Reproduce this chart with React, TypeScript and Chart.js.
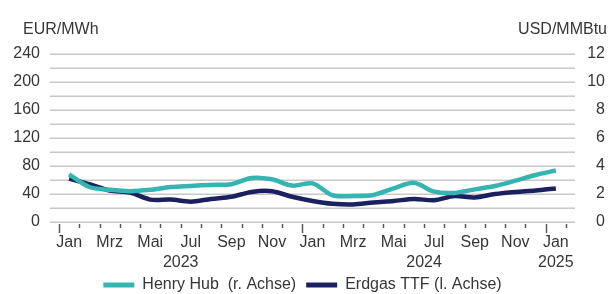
import React, { useEffect, useRef } from 'react';
import { Chart, registerables } from 'chart.js';

Chart.register(...registerables);

const months = [
  'Jan', 'Feb', 'Mrz', 'Apr', 'Mai', 'Jun', 'Jul', 'Aug', 'Sep', 'Okt', 'Nov', 'Dez',
  'Jan', 'Feb', 'Mrz', 'Apr', 'Mai', 'Jun', 'Jul', 'Aug', 'Sep', 'Okt', 'Nov', 'Dez',
  'Jan',
];
const years = ['2023', '2024', '2025'];
const yearStarts = [0, 12, 24];
const yearEnds = [12, 24, 25];

// USD/MMBtu (right axis)
const henryHub = [
  3.4, 2.5, 2.3, 2.2, 2.3, 2.5, 2.58, 2.65, 2.7, 3.15, 3.05, 2.6,
  2.76, 1.9, 1.86, 1.93, 2.4, 2.8, 2.17, 2.08, 2.33, 2.57, 2.95, 3.36,
  3.68,
];
// EUR/MWh (left axis)
const ttf = [
  62, 54, 45, 42, 32, 32, 29, 33, 36, 43, 44, 36,
  30, 26, 25, 28, 30, 33, 31, 37, 35, 40, 43, 45,
  48,
];

const leftTitle = 'EUR/MWh';
const rightTitle = 'USD/MMBtu';
const seriesNames = ['Henry Hub  (r. Achse)', 'Erdgas TTF (l. Achse)'];

const TEAL = '#35b4b2';
const NAVY = '#1b215e';
const TEXT = '#363636';
const FONT = { family: "'Liberation Sans', Arial, sans-serif", size: 16 };
const FONT_STR = "16px 'Liberation Sans', Arial, sans-serif";

const decorPlugin = {
  id: 'decor',
  beforeDatasetsDraw(chart: any) {
    const { ctx, chartArea } = chart;
    const y = chart.scales.y;
    ctx.save();
    ctx.strokeStyle = '#c8c8c8';
    ctx.lineWidth = 1.5;
    for (let v = 0; v <= 240; v += 20) {
      const py = Math.round(y.getPixelForValue(v)) + 0.25;
      ctx.beginPath();
      ctx.moveTo(chartArea.left - 9, py);
      ctx.lineTo(chartArea.right + 9, py);
      ctx.stroke();
    }
    ctx.restore();
  },
  afterDraw(chart: any) {
    const { ctx, chartArea } = chart;
    const x = chart.scales.x;
    const y = chart.scales.y;
    const y1 = chart.scales.y1;
    const half = (x.getPixelForValue(1) - x.getPixelForValue(0)) / 2;
    const bound = (i: number) => x.getPixelForValue(i) - half;
    ctx.save();
    ctx.strokeStyle = '#595959';
    ctx.lineWidth = 1.5;
    const base = chartArea.bottom + 2;
    for (let i = 0; i <= months.length; i++) {
      const px = Math.round(bound(i)) + 0.5;
      const major = yearStarts.includes(i);
      ctx.beginPath();
      ctx.moveTo(px, base);
      ctx.lineTo(px, base + (major ? 9 : 4));
      ctx.stroke();
    }
    ctx.fillStyle = TEXT;
    ctx.font = FONT_STR;
    ctx.textBaseline = 'middle';
    ctx.textAlign = 'center';
    years.forEach((yr, k) => {
      const cx = (bound(yearStarts[k]) + bound(yearEnds[k])) / 2;
      ctx.fillText(yr, cx, chartArea.bottom + 41);
    });
    ctx.textAlign = 'left';
    ctx.fillText(leftTitle, y.left + 23, 30);
    ctx.textAlign = 'right';
    ctx.fillText(rightTitle, y1.right + 2, 30);
    ctx.restore();
  },
};

export default function App() {
  const ref = useRef<HTMLCanvasElement>(null);
  useEffect(() => {
    if (!ref.current) return;
    const chart = new Chart(ref.current, {
      type: 'line',
      data: {
        labels: months,
        datasets: [
          {
            label: seriesNames[0],
            data: henryHub,
            yAxisID: 'y1',
            borderColor: TEAL,
            backgroundColor: TEAL,
            borderWidth: 4.5,
            pointRadius: 0,
            tension: 0.3,
            borderJoinStyle: 'round',
          },
          {
            label: seriesNames[1],
            data: ttf,
            yAxisID: 'y',
            borderColor: NAVY,
            backgroundColor: NAVY,
            borderWidth: 4.5,
            pointRadius: 0,
            tension: 0.3,
            borderJoinStyle: 'round',
          },
        ],
      },
      options: {
        animation: false,
        responsive: false,
        layout: { padding: { top: 54, right: 6, bottom: -9, left: 0 } },
        plugins: {
          tooltip: { enabled: false },
          legend: {
            position: 'bottom',
            labels: {
              boxWidth: 31,
              boxHeight: 5,
              padding: 10,
              color: TEXT,
              font: FONT,
              generateLabels: (c: any) => {
                const items = Chart.defaults.plugins.legend.labels.generateLabels(c);
                return items.map((it: any) => ({ ...it, lineWidth: 0, strokeStyle: 'transparent' }));
              },
            },
          },
        },
        scales: {
          x: {
            offset: true,
            grid: { display: false, drawTicks: false },
            border: { display: false },
            ticks: {
              autoSkip: false,
              maxRotation: 0,
              padding: 11,
              color: TEXT,
              font: FONT,
              callback: (_v: any, i: number) => (i % 2 === 0 ? months[i] : ''),
            },
            afterFit: (s: any) => {
              s.height = 45;
            },
          },
          y: {
            position: 'left',
            min: 0,
            max: 240,
            grid: { display: false, drawTicks: false },
            border: { display: false },
            ticks: {
              stepSize: 20,
              padding: 19,
              color: TEXT,
              font: FONT,
              callback: (v: any) => (v % 40 === 0 ? String(v) : ''),
            },
            afterFit: (s: any) => {
              s.width = 59;
            },
          },
          y1: {
            position: 'right',
            min: 0,
            max: 12,
            grid: { display: false, drawTicks: false },
            border: { display: false },
            ticks: {
              stepSize: 1,
              crossAlign: 'far',
              color: TEXT,
              font: FONT,
              callback: (v: any) => (v % 2 === 0 ? String(v) : ''),
            },
            afterFit: (s: any) => {
              s.width = 39;
            },
          },
        },
      } as any,
      plugins: [decorPlugin],
    });
    return () => chart.destroy();
  }, []);
  return (
    <div style={{ position: 'fixed', left: 0, top: 0, width: 611, height: 294, background: '#fff' }}>
      <canvas ref={ref} width={611} height={294} style={{ width: 611, height: 294, display: 'block' }} />
    </div>
  );
}
